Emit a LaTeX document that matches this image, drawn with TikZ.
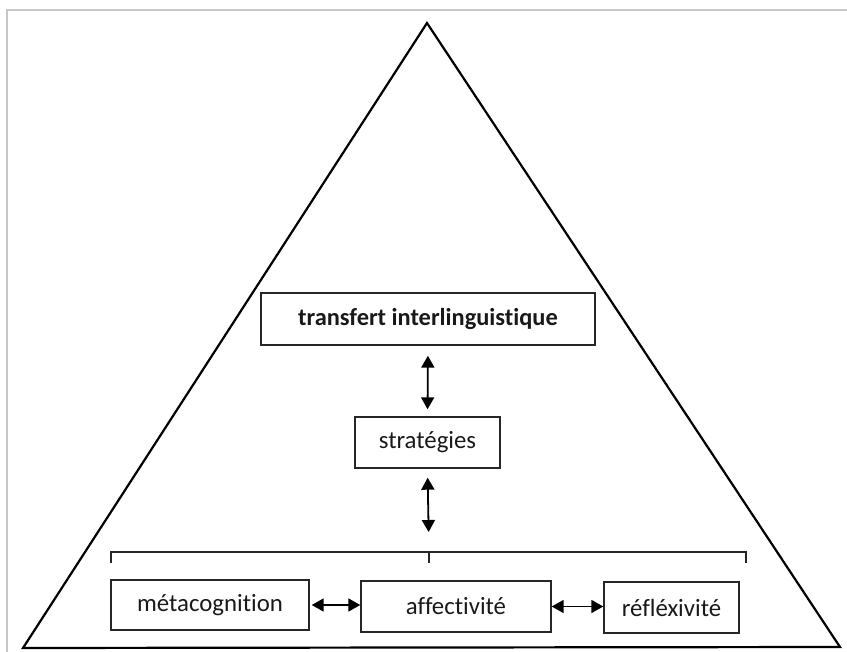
\documentclass[tikz,border=0pt]{standalone}
\usepackage{fontspec}
\setmainfont{Carlito}[Ligatures=NoCommon, RawFeature=-liga]
\usepackage{tikz}
\usetikzlibrary{arrows.meta, positioning, calc}
\tikzstyle{box} = [rectangle, draw=black!85, line width=0.7pt, inner sep=0pt,
    minimum height=25.5pt, text centered, text=black!90, font=\fontsize{12.4}{14}\selectfont]
\tikzstyle{titlebox} = [box, font=\fontsize{12.2}{14}\selectfont\bfseries]
\tikzstyle{arrow} = [line width=0.9pt, {Triangle[length=6pt,width=6.5pt]}-{Triangle[length=6pt,width=6.5pt]}]
\tikzstyle{frame} = [draw=black!22, line width=1pt]

\begin{document}
\begin{tikzpicture}[x=0.5pt, y=-0.5pt]
\useasboundingbox (0,0) rectangle (847,652);
\draw[frame] (7,652) -- (7,10) -- (847,10);
% pyramide
\draw[line width=1.1pt, line join=miter] (427,23) -- (840,647) -- (23,648) -- cycle;

\node (trans) [titlebox, minimum width=167pt, minimum height=26pt] at (428,319) {transfert interlinguistique};
\node (strat) [box, minimum width=72.5pt] at (427.5,442.5) {strat\'egies\hspace{7pt}};
\node (meta) [box, minimum width=99pt, minimum height=25pt] at (210,605) {m\'etacognition};
\node (affect) [box, minimum width=95pt] at (456,606.5) {affectivit\'e};
\node (reflex) [box, minimum width=67.5pt] at (671.5,607.5) {r\'efl\'exivit\'e};

% accolade
\coordinate (brk) at (429,552);
\draw[line width=0.7pt, black!85] (111,563) -- (111,552) -- (746,552) -- (746,563);
\draw[line width=0.7pt, black!85] (brk) -- ++(0,11);

\draw[arrow, shorten <=5pt, shorten >=3.5pt] (trans.south) -- (strat.north);
\draw[arrow, shorten <=4.5pt, shorten >=10pt] (strat.south) -- (brk);
\draw[arrow, shorten <=1pt] (meta.east) -- (meta.east -| affect.west);
\draw[arrow] (affect.east) -- (affect.east -| reflex.west);
\end{tikzpicture}
\end{document}
